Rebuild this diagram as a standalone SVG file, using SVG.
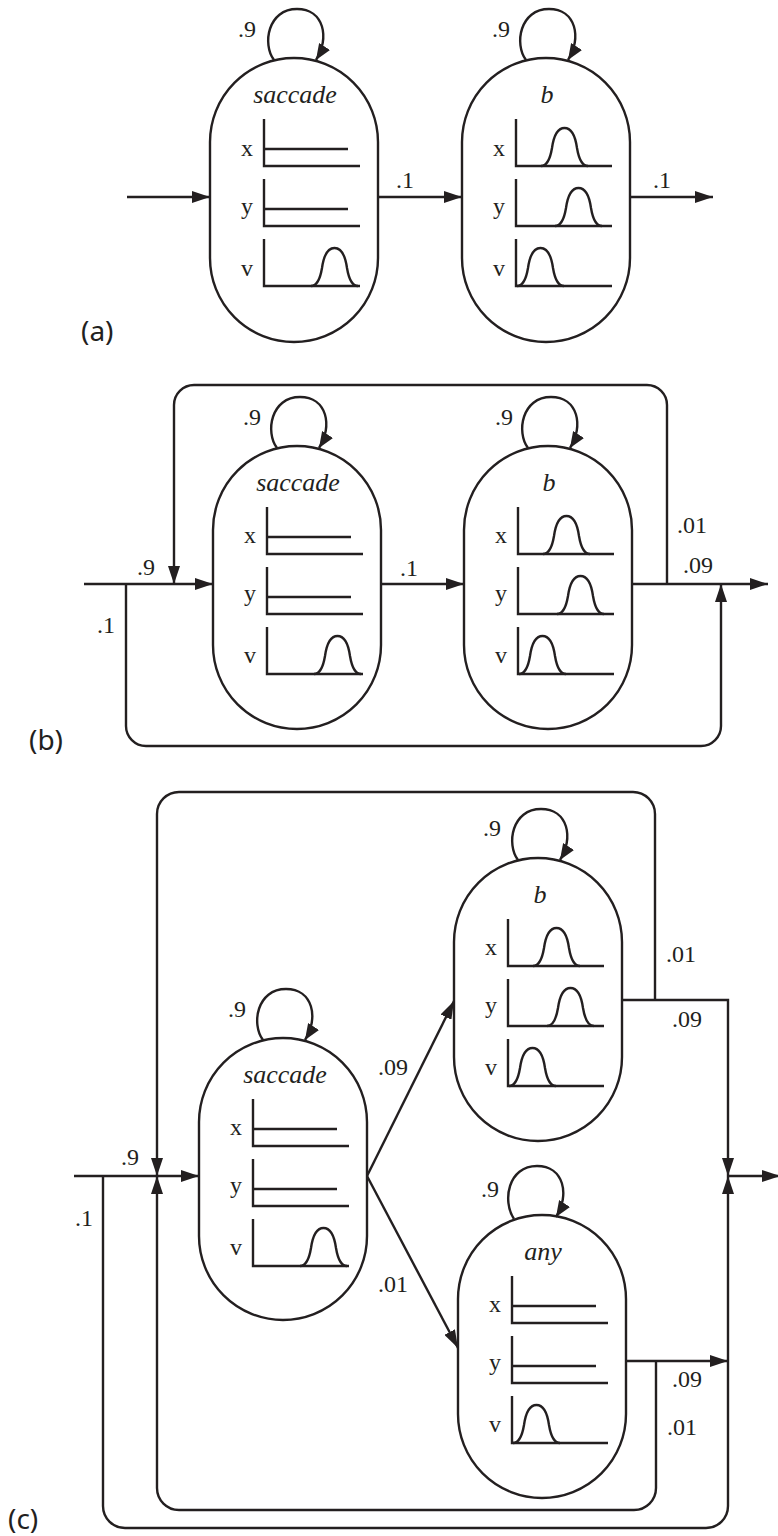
<svg xmlns="http://www.w3.org/2000/svg" xmlns:xlink="http://www.w3.org/1999/xlink" width="778" height="1536" viewBox="0 0 778 1536">
  <style>
    .cap { fill: none; stroke: #231f20; stroke-width: 2.4; }
    .pl { fill: none; stroke: #231f20; stroke-width: 2.4; }
    .ln { fill: none; stroke: #231f20; stroke-width: 2.4; }
    .nm { font-family: "Liberation Serif", serif; font-style: italic; font-size: 26px; fill: #231f20; text-anchor: middle; }
    .ax { font-family: "Liberation Serif", serif; font-size: 24px; fill: #231f20; text-anchor: end; }
    .pr { font-family: "Liberation Serif", serif; font-size: 24px; fill: #231f20; }
    .cap-label { font-family: "Noto Sans", "Open Sans", sans-serif; font-size: 28px; fill: #231f20; }
  </style>
  <defs>
    <marker id="ah" viewBox="0 0 18 12" refX="18" refY="6" markerWidth="18" markerHeight="12" markerUnits="userSpaceOnUse" orient="auto">
      <path d="M0,0 L18,6 L0,12 Z" fill="#231f20"/>
    </marker>
    <marker id="ahs" viewBox="0 0 16 13" refX="16" refY="6.5" markerWidth="16" markerHeight="13" markerUnits="userSpaceOnUse" orient="auto">
      <path d="M0,0 L16,6.5 L0,13 Z" fill="#231f20"/>
    </marker>
    <!-- bell-shaped density curve, 47 wide, 38 tall, origin at left foot -->
    <path id="bell" class="pl" d="M0,0 C6,0 9,-6 11,-18 C13,-32 17,-38 23.5,-38 C30,-38 34,-32 36,-18 C38,-6 41,0 47,0"/>
    <!-- axes for the three x / y / v plots -->
    <path id="axes" class="pl" d="M54,61 V108 H150 M54,121 V168 H150 M54,181 V228 H150"/>
    <path id="flat2" class="pl" d="M54,91 H138 M54,151 H138"/>
  </defs>

  <rect x="0" y="0" width="778" height="1536" fill="#ffffff"/>

  <!-- ===== panel (a) ===== -->
  <g id="a-saccade" transform="translate(210,58)">
    <rect class="cap" x="0" y="0" width="168" height="284" rx="84" ry="84"/>
    <text class="nm" x="85" y="45">saccade</text>
    <text class="ax" x="43" y="98">x</text>
    <text class="ax" x="43" y="156">y</text>
    <text class="ax" x="43" y="218">v</text>
    <use xlink:href="#axes"/>
    <use xlink:href="#flat2"/>
    <use xlink:href="#bell" x="101" y="228"/>
  </g>
  <g id="a-b" transform="translate(462,58)">
    <rect class="cap" x="0" y="0" width="168" height="284" rx="84" ry="84"/>
    <text class="nm" x="85" y="45">b</text>
    <text class="ax" x="43" y="98">x</text>
    <text class="ax" x="43" y="156">y</text>
    <text class="ax" x="43" y="218">v</text>
    <use xlink:href="#axes"/>
    <use xlink:href="#bell" x="79" y="108"/>
    <use xlink:href="#bell" x="93" y="168"/>
    <use xlink:href="#bell" x="55" y="228"/>
  </g>

  <!-- ===== panel (b) ===== -->
  <g id="b-saccade" transform="translate(213,446)">
    <rect class="cap" x="0" y="0" width="168" height="283" rx="84" ry="84"/>
    <text class="nm" x="85" y="45">saccade</text>
    <text class="ax" x="43" y="97">x</text>
    <text class="ax" x="43" y="155">y</text>
    <text class="ax" x="43" y="217">v</text>
    <use xlink:href="#axes"/>
    <use xlink:href="#flat2"/>
    <use xlink:href="#bell" x="101" y="228"/>
  </g>
  <g id="b-b" transform="translate(464,446)">
    <rect class="cap" x="0" y="0" width="168" height="283" rx="84" ry="84"/>
    <text class="nm" x="85" y="45">b</text>
    <text class="ax" x="43" y="97">x</text>
    <text class="ax" x="43" y="155">y</text>
    <text class="ax" x="43" y="217">v</text>
    <use xlink:href="#axes"/>
    <use xlink:href="#bell" x="79" y="108"/>
    <use xlink:href="#bell" x="93" y="168"/>
    <use xlink:href="#bell" x="55" y="228"/>
  </g>

  <!-- ===== panel (c) ===== -->
  <g id="c-saccade" transform="translate(199,1038)">
    <rect class="cap" x="0" y="0" width="168" height="282" rx="84" ry="84"/>
    <text class="nm" x="86" y="45">saccade</text>
    <text class="ax" x="43" y="97">x</text>
    <text class="ax" x="43" y="155">y</text>
    <text class="ax" x="43" y="217">v</text>
    <use xlink:href="#axes"/>
    <use xlink:href="#flat2"/>
    <use xlink:href="#bell" x="101" y="228"/>
  </g>
  <g id="c-b" transform="translate(454,858)">
    <rect class="cap" x="0" y="0" width="168" height="283" rx="84" ry="84"/>
    <text class="nm" x="86" y="45">b</text>
    <text class="ax" x="43" y="97">x</text>
    <text class="ax" x="43" y="155">y</text>
    <text class="ax" x="43" y="217">v</text>
    <use xlink:href="#axes"/>
    <use xlink:href="#bell" x="79" y="108"/>
    <use xlink:href="#bell" x="93" y="168"/>
    <use xlink:href="#bell" x="55" y="228"/>
  </g>
  <g id="c-any" transform="translate(458,1215)">
    <rect class="cap" x="0" y="0" width="168" height="283" rx="84" ry="84"/>
    <text class="nm" x="85" y="45">any</text>
    <text class="ax" x="43" y="97">x</text>
    <text class="ax" x="43" y="155">y</text>
    <text class="ax" x="43" y="217">v</text>
    <use xlink:href="#axes"/>
    <use xlink:href="#flat2"/>
    <use xlink:href="#bell" x="55" y="228"/>
  </g>

  <!-- ===== connectors ===== -->
  <g id="connectors">
    <!-- (a) -->
    <path class="ln" d="M274,60 C262,44 268,9 297,9 C324,9 330,38 316,60" marker-end="url(#ahs)"/>
    <path class="ln" d="M526,60 C514,44 520,9 549,9 C576,9 582,38 568,60" marker-end="url(#ahs)"/>
    <path class="ln" d="M127,197 H210" marker-end="url(#ah)"/>
    <path class="ln" d="M378,197 H462" marker-end="url(#ah)"/>
    <path class="ln" d="M630,197 H713" marker-end="url(#ah)"/>

    <!-- (b) -->
    <path class="ln" d="M277,448 C265,432 271,397 300,397 C327,397 333,426 319,448" marker-end="url(#ahs)"/>
    <path class="ln" d="M528,448 C516,432 522,397 551,397 C578,397 584,426 570,448" marker-end="url(#ahs)"/>
    <path class="ln" d="M84,584 H213" marker-end="url(#ah)"/>
    <path class="ln" d="M667,584 V405 A20,20 0 0 0 647,385 H194 A20,20 0 0 0 174,405 V584" marker-end="url(#ah)"/>
    <path class="ln" d="M126,584 V726 A20,20 0 0 0 146,746 H701 A20,20 0 0 0 721,726 V584" marker-end="url(#ah)"/>
    <path class="ln" d="M381,584 H464" marker-end="url(#ah)"/>
    <path class="ln" d="M632,584 H768" marker-end="url(#ah)"/>

    <!-- (c) -->
    <path class="ln" d="M263,1040 C251,1024 257,989 286,989 C313,989 319,1018 305,1040" marker-end="url(#ahs)"/>
    <path class="ln" d="M518,860 C506,844 512,809 541,809 C568,809 574,838 560,860" marker-end="url(#ahs)"/>
    <path class="ln" d="M514,1219 C502,1201 508,1166 537,1166 C564,1166 570,1195 556,1217" marker-end="url(#ahs)"/>
    <path class="ln" d="M74,1176 H199" marker-end="url(#ah)"/>
    <path class="ln" d="M655,1000 V814 A22,22 0 0 0 633,792 H179 A22,22 0 0 0 157,814 V1176" marker-end="url(#ah)"/>
    <path class="ln" d="M656,1361 V1488 A22,22 0 0 1 634,1510 H179 A22,22 0 0 1 157,1488 V1176" marker-end="url(#ah)"/>
    <path class="ln" d="M103,1176 V1506 A22,22 0 0 0 125,1528 H706 A22,22 0 0 0 728,1506 V1176" marker-end="url(#ah)"/>
    <path class="ln" d="M367,1176 L454,1001" marker-end="url(#ah)"/>
    <path class="ln" d="M367,1176 L458,1348" marker-end="url(#ah)"/>
    <path class="ln" d="M622,1000 H728 V1176" marker-end="url(#ah)"/>
    <path class="ln" d="M626,1361 H728" marker-end="url(#ah)"/>
    <path class="ln" d="M728,1176 H780" marker-end="url(#ah)"/>
  </g>

  <!-- transition probabilities -->
  <g id="probs">
    <text class="pr" x="238" y="37">.9</text>
    <text class="pr" x="492" y="37">.9</text>
    <text class="pr" x="396" y="188">.1</text>
    <text class="pr" x="653" y="188">.1</text>

    <text class="pr" x="243" y="425">.9</text>
    <text class="pr" x="495" y="425">.9</text>
    <text class="pr" x="137" y="575">.9</text>
    <text class="pr" x="97" y="633">.1</text>
    <text class="pr" x="400" y="576">.1</text>
    <text class="pr" x="677" y="533">.01</text>
    <text class="pr" x="683" y="573">.09</text>

    <text class="pr" x="228" y="1017">.9</text>
    <text class="pr" x="483" y="836">.9</text>
    <text class="pr" x="481" y="1197">.9</text>
    <text class="pr" x="121" y="1165">.9</text>
    <text class="pr" x="75" y="1226">.1</text>
    <text class="pr" x="378" y="1075">.09</text>
    <text class="pr" x="378" y="1292">.01</text>
    <text class="pr" x="666" y="962">.01</text>
    <text class="pr" x="672" y="1027">.09</text>
    <text class="pr" x="672" y="1387">.09</text>
    <text class="pr" x="667" y="1435">.01</text>
  </g>

  <!-- panel captions -->
  <text class="cap-label" x="81" y="341">(a)</text>
  <text class="cap-label" x="29" y="750">(b)</text>
  <text class="cap-label" x="8" y="1529">(c)</text>
</svg>
